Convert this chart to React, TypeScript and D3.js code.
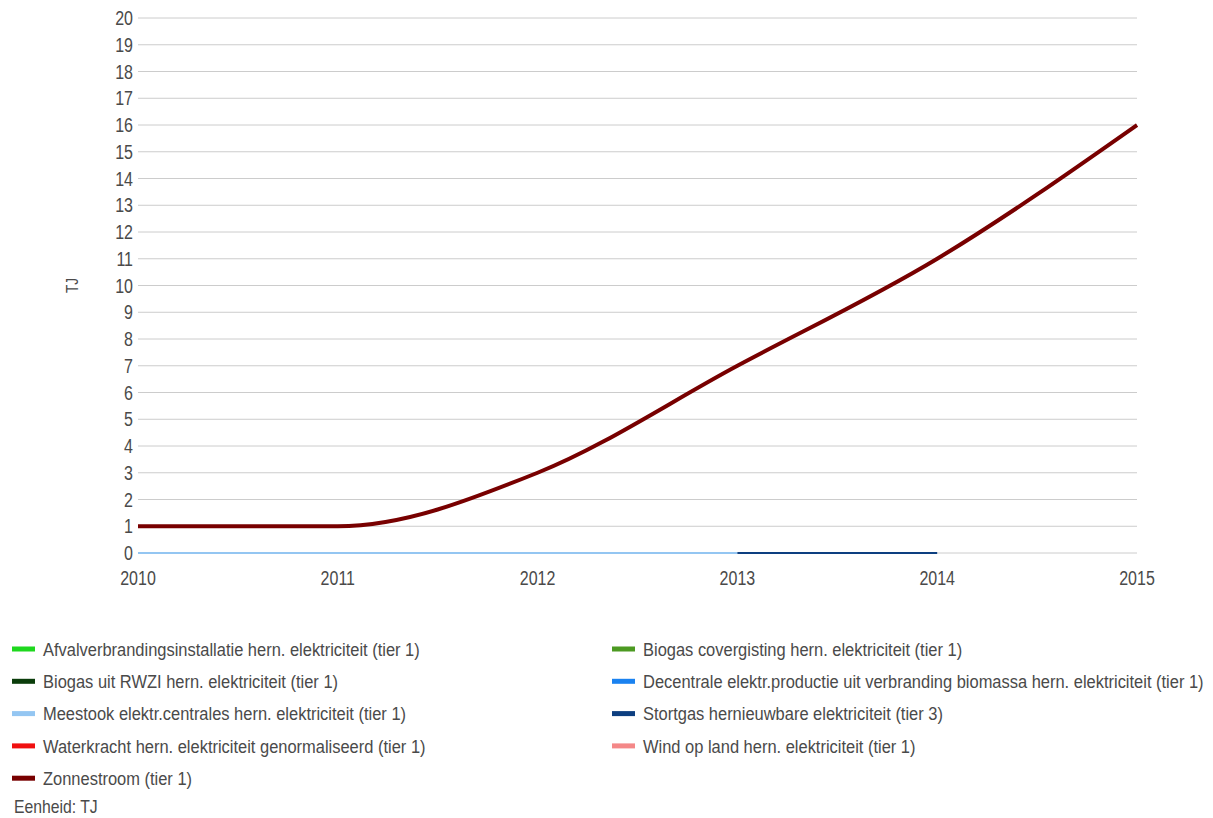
import * as React from 'react';
import * as d3 from 'd3';

// Data
const years = [2010, 2011, 2012, 2013, 2014, 2015];
const yTicks = d3.range(0, 21);

const zonnestroom = [1, 1, 3, 7, 11, 16];
const meestook = [0, 0, 0, 0, null, null];
const stortgas = [null, null, null, 0, 0, null];

const seriesNames = [
  'Afvalverbrandingsinstallatie hern. elektriciteit (tier 1)',
  'Biogas covergisting hern. elektriciteit (tier 1)',
  'Biogas uit RWZI hern. elektriciteit (tier 1)',
  'Decentrale elektr.productie uit verbranding biomassa hern. elektriciteit (tier 1)',
  'Meestook elektr.centrales hern. elektriciteit (tier 1)',
  'Stortgas hernieuwbare elektriciteit (tier 3)',
  'Waterkracht hern. elektriciteit genormaliseerd (tier 1)',
  'Wind op land hern. elektriciteit (tier 1)',
  'Zonnestroom (tier 1)',
];
const seriesColors = [
  '#1ed81e', '#4c9a22', '#0b3d0b', '#1a82f0', '#94c6f2',
  '#0d3f80', '#f01010', '#f48888', '#780000',
];

const W = 1213;
const H = 818;
const FONT = '"Liberation Sans", Arial, sans-serif';
const TEXT = '#4a4a4a';

const App: React.FC = () => {
  const margin = { left: 138, right: 76, top: 18, bottom: 265 };
  const x = d3.scaleLinear().domain([2010, 2015]).range([margin.left, W - margin.right]);
  const y = d3.scaleLinear().domain([0, 20]).range([H - margin.bottom, margin.top]);

  const line = d3.line<number | null>()
    .defined(d => d !== null)
    .x((_, i) => x(years[i]))
    .y(d => y(d as number))
    .curve(d3.curveMonotoneX);

  const lines = [
    { data: meestook, color: seriesColors[4], width: 2 },
    { data: stortgas, color: seriesColors[5], width: 2 },
    { data: zonnestroom, color: seriesColors[8], width: 4 },
  ];

  const rowY = (i: number) => 649 + Math.floor(i / 2) * 32.3;
  const colX = (i: number) => (i % 2 === 0 ? 12 : 612);

  return (
    <div style={{ position: 'absolute', left: 0, top: 0 }}>
      <svg width={W} height={H} style={{ display: 'block', background: '#fff' }} fontFamily={FONT}>
        {/* gridlines */}
        {yTicks.map(t => (
          <line key={'g' + t} x1={x(2010)} x2={x(2015)} y1={y(t)} y2={y(t)}
            stroke="#cccccc" strokeWidth={1} />
        ))}
        {/* y labels */}
        {yTicks.map(t => (
          <text key={'yl' + t} transform={`translate(133,${y(t)}) scale(0.8,1)`}
            textAnchor="end" dy="0.36em" fontSize={20} fill={TEXT}>{t}</text>
        ))}
        <text transform={`translate(78,${(y(0) + y(20)) / 2}) rotate(-90) scale(0.85,1)`}
          textAnchor="middle" fontSize={16} fill={TEXT}>TJ</text>
        {/* x labels */}
        {years.map(yr => (
          <text key={'xl' + yr} transform={`translate(${x(yr)},585) scale(0.8,1)`}
            textAnchor="middle" fontSize={20} fill={TEXT}>{yr}</text>
        ))}
        {/* lines */}
        {lines.map((l, i) => (
          <path key={'l' + i} d={line(l.data) ?? ''} fill="none" stroke={l.color}
            strokeWidth={l.width} strokeLinejoin="round" />
        ))}
        {/* legend */}
        {seriesNames.map((name, i) => (
          <g key={'lg' + i} transform={`translate(${colX(i)},${rowY(i)})`}>
            <rect x={0} y={-2.5} width={23} height={5} fill={seriesColors[i]} />
            <text transform="translate(31,0) scale(0.9,1)" dy="0.36em" fontSize={18.3} fill={TEXT}>{name}</text>
          </g>
        ))}
        <text transform="translate(14,807) scale(0.9,1)" dy="0.36em" fontSize={17.5} fill={TEXT}>Eenheid: TJ</text>
      </svg>
    </div>
  );
};

export default App;
